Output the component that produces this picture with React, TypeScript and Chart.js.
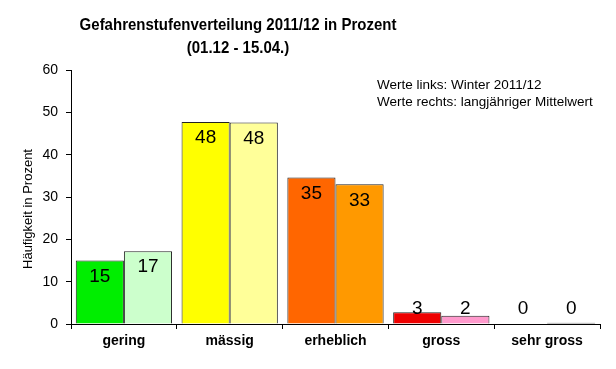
import React, { useEffect, useRef } from "react";
import { Chart, registerables } from "chart.js";

Chart.register(...registerables);

const categories = ["gering", "mässig", "erheblich", "gross", "sehr gross"];
const winterValues = [15.0, 47.7, 34.6, 2.75, 0];
const meanValues = [17.2, 47.6, 33.0, 1.95, 0.3];
const winterLabels = ["15", "48", "35", "3", "0"];
const meanLabels = ["17", "48", "33", "2", "0"];
const winterColors = ["#00EE00", "#FFFF00", "#FF6600", "#EE0000", "#FFFFFF"];
const meanColors = ["#CCFFCC", "#FFFF99", "#FF9900", "#FF99CC", "#222222"];
const yTicks = [0, 10, 20, 30, 40, 50, 60];

const FONT = "'Liberation Sans', Arial, sans-serif";

const overlayPlugin = {
  id: "overlay",
  afterDatasetsDraw(chart: any) {
    const ctx = chart.ctx;
    ctx.save();
    ctx.fillStyle = "#000";
    ctx.textAlign = "center";
    ctx.textBaseline = "middle";
    ctx.font = `19px ${FONT}`;
    const labelSets = [winterLabels, meanLabels];
    chart.data.datasets.forEach((_ds: any, di: number) => {
      const meta = chart.getDatasetMeta(di);
      meta.data.forEach((bar: any, i: number) => {
        const cy = Math.min(bar.y + 16, bar.base - 15);
        ctx.fillText(labelSets[di][i], bar.x, cy);
      });
    });
    ctx.restore();
  },
  afterDraw(chart: any) {
    const ctx = chart.ctx;
    ctx.save();
    ctx.fillStyle = "#000";
    ctx.textBaseline = "middle";
    ctx.textAlign = "center";
    ctx.font = `bold 15px ${FONT}`;
    const drawStretched = (t: string, x: number, y: number, sy: number) => {
      ctx.save();
      ctx.translate(x, y);
      ctx.scale(1, sy);
      ctx.fillText(t, 0, 0);
      ctx.restore();
    };
    drawStretched("Gefahrenstufenverteilung 2011/12 in Prozent", 238, 25, 1.15);
    drawStretched("(01.12 - 15.04.)", 238, 48, 1.15);
    ctx.textAlign = "left";
    ctx.font = `13.5px ${FONT}`;
    ctx.fillText("Werte links: Winter 2011/12", 377, 85);
    ctx.fillText("Werte rechts: langjähriger Mittelwert", 377, 102);
    ctx.save();
    ctx.translate(28, 209);
    ctx.rotate(-Math.PI / 2);
    ctx.textAlign = "center";
    ctx.font = `13px ${FONT}`;
    ctx.fillText("Häufigkeit in Prozent", 0, 0);
    ctx.restore();
    ctx.restore();
  },
};

export default function App() {
  const ref = useRef<HTMLCanvasElement | null>(null);
  useEffect(() => {
    if (!ref.current) return;
    const chart = new Chart(ref.current, {
      type: "bar",
      data: {
        labels: categories,
        datasets: [
          {
            label: "Winter 2011/12",
            data: winterValues,
            backgroundColor: winterColors,
            borderColor: "#222222",
            borderWidth: 1,
            categoryPercentage: 0.91,
            barPercentage: 1,
          },
          {
            label: "langjähriger Mittelwert",
            data: meanValues,
            backgroundColor: meanColors,
            borderColor: "#222222",
            borderWidth: 1,
            categoryPercentage: 0.91,
            barPercentage: 1,
          },
        ],
      },
      options: {
        responsive: false,
        animation: false,
        maintainAspectRatio: false,
        layout: { padding: { left: 0, top: 70, right: 16, bottom: 0 } },
        plugins: {
          legend: { display: false },
          title: { display: false },
          tooltip: { enabled: false },
        },
        scales: {
          x: {
            afterFit: (s: any) => {
              s.height = 45;
            },
            grid: {
              offset: true,
              drawOnChartArea: false,
              drawTicks: true,
              tickLength: 5,
              color: "#000",
            },
            border: { display: true, color: "#000", width: 1 },
            ticks: {
              color: "#000",
              padding: 4,
              font: { family: FONT, size: 14, weight: "bold" },
            },
          },
          y: {
            min: 0,
            max: 60,
            afterFit: (s: any) => {
              s.width = 71;
            },
            afterBuildTicks: (s: any) => {
              s.ticks = yTicks.map((v) => ({ value: v }));
            },
            grid: {
              drawOnChartArea: false,
              drawTicks: true,
              tickLength: 5,
              color: "#000",
            },
            border: { display: true, color: "#000", width: 1 },
            ticks: {
              color: "#000",
              padding: 8,
              font: { family: FONT, size: 14 },
            },
          },
        },
      },
      plugins: [overlayPlugin],
    });
    return () => chart.destroy();
  }, []);
  return (
    <div style={{ position: "fixed", left: 0, top: 0, width: 616, height: 369, background: "#fff" }}>
      <canvas ref={ref} width={616} height={369} style={{ width: 616, height: 369, display: "block" }} />
    </div>
  );
}
